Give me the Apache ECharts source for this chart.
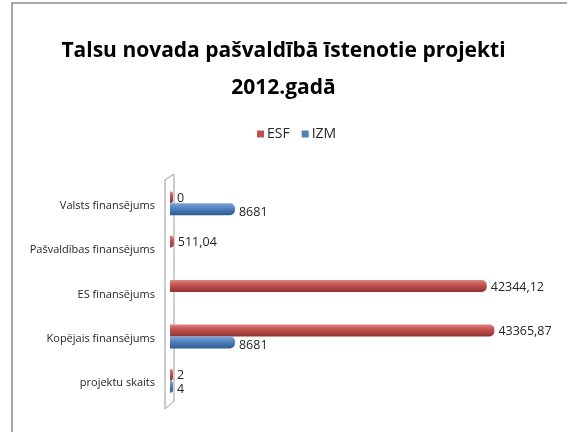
<!DOCTYPE html>
<html>
<head>
<meta charset="utf-8">
<script src="https://cdn.jsdelivr.net/npm/echarts@6/dist/echarts.min.js"></script>
<style>
html,body{margin:0;padding:0;background:#fff;}
#chart{width:567px;height:432px;}
</style>
</head>
<body>
<div id="chart"></div>
<script>
// kategorijas no apakšas uz augšu
var categories=['projektu skaits','Kopējais finansējums','ES finansējums','Pašvaldības finansējums','Valsts finansējums'];
var esfValues=[2,43365.87,42344.12,511.04,0];
var izmValues=[4,8681,'-','-',8681];
var seriesNames=['ESF','IZM'];

var font='"Open Sans",sans-serif';

function cyl(c1,c2,c3){
	return new echarts.graphic.LinearGradient(0,0,0,1,[
		{offset:0,color:c1},{offset:0.45,color:c2},{offset:1,color:c3}
	]);
}

function fmt(p){
	return String(p.value).replace('.',',');
}

var myChart=echarts.init(document.getElementById('chart'));
var option={
	backgroundColor:'#fff',
	animation:false,
	title:{
		text:'Talsu novada pašvaldībā īstenotie projekti\n2012.gadā',
		left:'center',
		top:28,
		textStyle:{fontFamily:font,fontSize:21,fontWeight:'bold',color:'#000',lineHeight:37}
	},
	legend:{
		data:[{name:'ESF',itemStyle:{color:'#c0504d'}},{name:'IZM',itemStyle:{color:'#4f81bd'}}],
		top:122,
		left:252,
		itemWidth:7,
		itemHeight:7,
		itemGap:12,
		icon:'rect',
		textStyle:{fontFamily:font,fontSize:14,color:'#262626',padding:[0,0,0,-2]}
	},
	grid:{left:170,right:23,top:181,bottom:29},
	xAxis:{
		type:'value',
		min:0,
		max:50000,
		show:false
	},
	yAxis:{
		type:'category',
		data:categories,
		axisLine:{show:false},
		axisTick:{show:false},
		axisLabel:{fontFamily:font,fontSize:11,color:'#262626',margin:15,verticalAlign:'top',padding:[-3,0,0,0]}
	},
	// 3D sieniņa pie ass
	graphic:[
		{type:'polyline',shape:{points:[[12,432],[12,3],[600,3]]},style:{stroke:'#8c8c8c',lineWidth:1.5,fill:null}},
		{type:'polygon',shape:{points:[[165,180],[174,174],[174,401],[165,409]]},style:{stroke:'#9a9a9a',lineWidth:1,fill:'rgba(255,255,255,0)'},z:-1}
	],
	series:[
		{
			name:seriesNames[0],
			type:'bar',
			data:esfValues,
			barWidth:12,
			barGap:'0%',
			barMinHeight:3,
			itemStyle:{color:cyl('#e38380','#c0504d','#8f3431'),borderRadius:[0,5,5,0]},
			label:{show:true,position:'right',distance:4,offset:[0,1],formatter:fmt,fontFamily:font,fontSize:12.5,color:'#262626'}
		},
		{
			name:seriesNames[1],
			type:'bar',
			data:izmValues,
			barWidth:12,
			barGap:'0%',
			barMinHeight:3,
			itemStyle:{color:cyl('#7da3d6','#4f81bd','#2f5b8f'),borderRadius:[0,5,5,0]},
			label:{show:true,position:'right',distance:4,offset:[0,3],formatter:fmt,fontFamily:font,fontSize:12.5,color:'#262626'}
		}
	]
};
myChart.setOption(option);
</script>
</body>
</html>
